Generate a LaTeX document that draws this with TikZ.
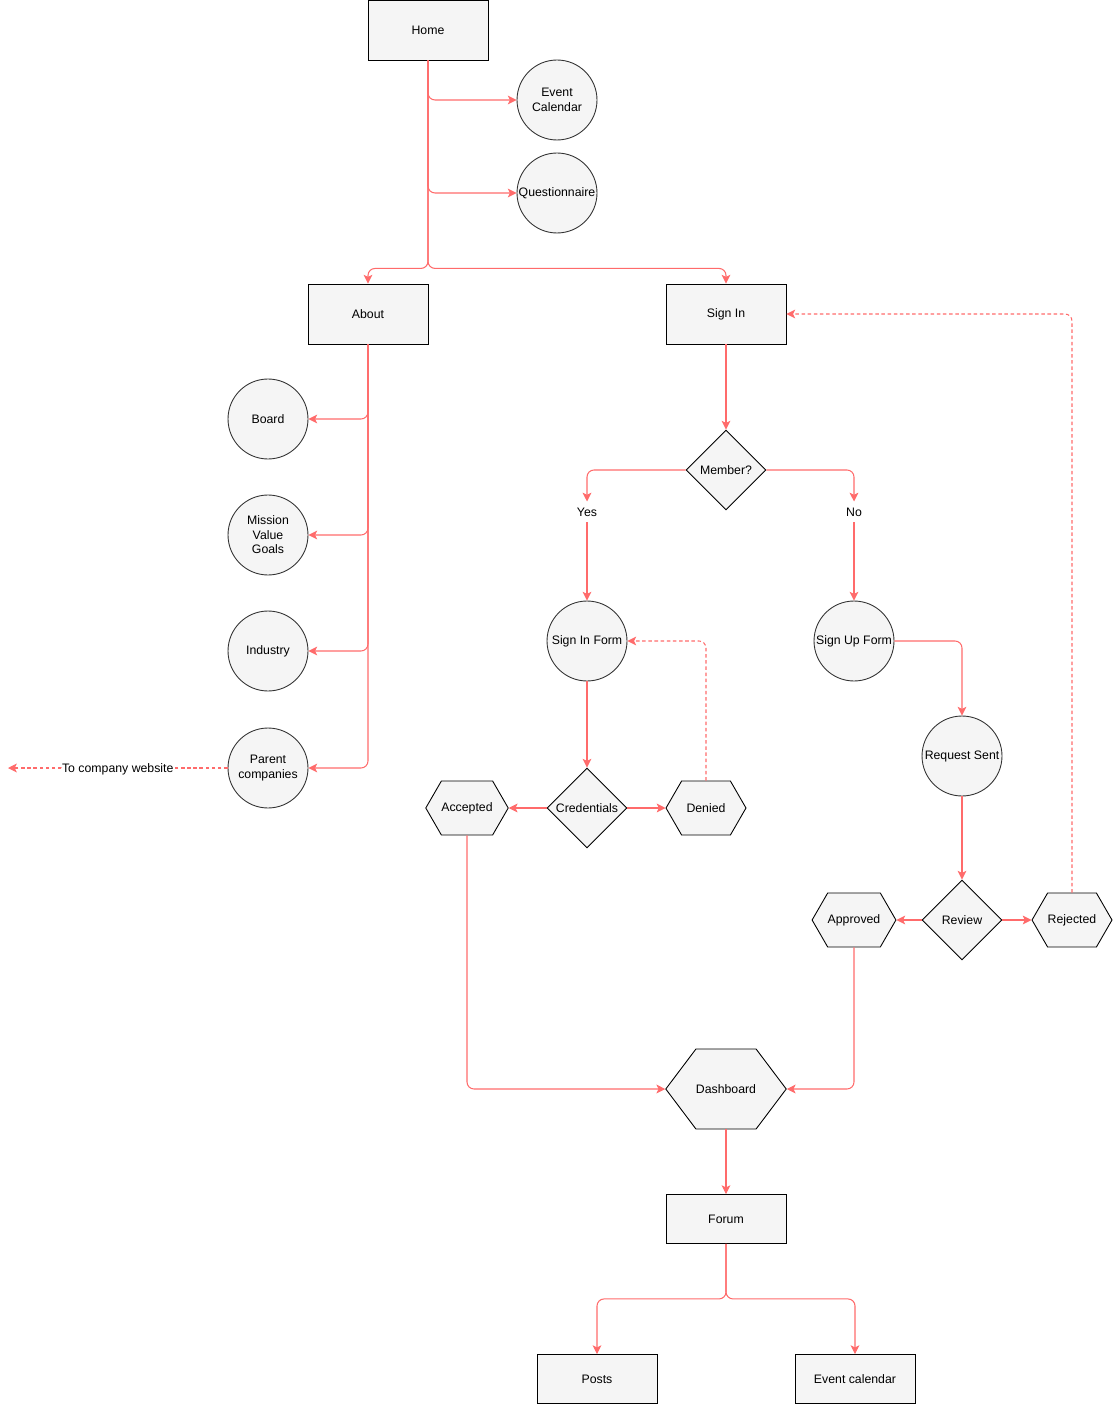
\documentclass[tikz,border=0pt]{standalone}
\usepackage{fontspec}
\setmainfont{Liberation Sans}
\usepackage{xcolor}
\usetikzlibrary{shapes.geometric, shapes.symbols, arrows.meta}
\definecolor{linkRed}{HTML}{FF6B6B}
\definecolor{fillGrey}{HTML}{F5F5F5}
\definecolor{edgeGrey}{HTML}{333333}

\begin{document}
\begin{tikzpicture} [
    x=0.02cm, y=-0.02cm,
    font=\fontsize{7}{8.2}\selectfont,
    pageNode/.style={rectangle, draw=black, fill=fillGrey, line width=0.5pt, inner sep=0pt, minimum width=2.4cm, minimum height=1.2cm},
    smallPage/.style={pageNode, minimum height=0.98cm},
    viewNode/.style={circle, draw=edgeGrey, fill=fillGrey, line width=0.5pt, inner sep=0pt, minimum size=1.6cm, align=center},
    decision/.style={diamond, draw=black, fill=fillGrey, line width=0.5pt, inner sep=0pt, minimum width=1.6cm, minimum height=1.6cm},
    result/.style={signal, signal to=west and east, signal pointer angle=120, draw=black, fill=fillGrey, line width=0.5pt, inner sep=0pt, minimum width=1.6cm, minimum height=1.08cm},
    link/.style={line width=0.6pt, draw=linkRed, rounded corners=4pt, -{Stealth[length=5pt, width=5pt, inset=1.2pt]}},
    backLink/.style={link, dashed, dash pattern=on 2pt off 1.5pt}
]
    \useasboundingbox (0,0) rectangle (1113,1405);

    % top level
    \node[pageNode] (home) at (428,30) {Home};
    \node[viewNode] (evcal) at (557,100) {Event\\Calendar};
    \node[viewNode] (quest) at (557,193) {Questionnaire};
    \node[pageNode] (about) at (368,314) {About};
    \node[pageNode] (signin) at (726,314) {Sign In};

    % about pages
    \node[viewNode] (board) at (268,419) {Board};
    \node[viewNode] (mission) at (268,535) {Mission\\Value\\Goals};
    \node[viewNode] (industry) at (268,651) {Industry};
    \node[viewNode] (parent) at (268,768) {Parent\\companies};
    \coordinate (website) at (8,768);

    % sign in flow
    \node[decision] (member) at (726,470) {Member?};
    \node (yes) at (587,512) {Yes};
    \node (no) at (854,512) {No};
    \node[viewNode] (sinform) at (587,641) {Sign In Form};
    \node[viewNode] (supform) at (854,641) {Sign Up Form};
    \node[decision] (cred) at (587,808) {Credentials};
    \node[result] (accepted) at (467,808) {Accepted};
    \node[result] (denied) at (706,808) {Denied};
    \node[viewNode] (request) at (962,756) {Request Sent};
    \node[decision] (review) at (962,920) {Review};
    \node[result] (approved) at (854,920) {Approved};
    \node[result] (rejected) at (1072,920) {Rejected};

    % member area
    \node[result, minimum width=2.4cm, minimum height=1.6cm, signal pointer angle=106] (dash) at (726,1089) {Dashboard};
    \node[smallPage] (forum) at (726,1219) {Forum};
    \node[smallPage] (posts) at (597,1379) {Posts};
    \node[smallPage] (calendar) at (855,1379) {Event calendar};

    \draw [link] (home.south) |- (evcal.west);
    \draw [link] (home.south) |- (quest.west);
    \draw [link] (home.south) -- ++(0,208) -| (about.north);
    \draw [link] (home.south) -- ++(0,208) -| (signin.north);

    \draw [link] (about.south) |- (board.east);
    \draw [link] (about.south) |- (mission.east);
    \draw [link] (about.south) |- (industry.east);
    \draw [link] (about.south) |- (parent.east);
    \draw [backLink] (parent.west) -- node[fill=white, inner sep=0.5pt, yshift=-0.5pt] {To company website} (website);

    \draw [link] (signin.south) -- (member.north);
    \draw [link] (member.west) -| (yes.north);
    \draw [link] (member.east) -| (no.north);
    \draw [link] (yes.south) -- (sinform.north);
    \draw [link] (no.south) -- (supform.north);
    \draw [link] (sinform.south) -- (cred.north);
    \draw [link] (cred.west) -- (accepted.east);
    \draw [link] (cred.east) -- (denied.west);
    \draw [backLink] (denied.north) |- (sinform.east);
    \draw [link] (supform.east) -| (request.north);
    \draw [link] (request.south) -- (review.north);
    \draw [link] (review.west) -- (approved.east);
    \draw [link] (review.east) -- (rejected.west);
    \draw [backLink] (rejected.north) |- (signin.east);

    \draw [link] (accepted.south) |- (dash.west);
    \draw [link] (approved.south) |- (dash.east);
    \draw [link] (dash.south) -- (forum.north);
    \draw [link] (forum.south) -- ++(0,55) -| (posts.north);
    \draw [link] (forum.south) -- ++(0,55) -| (calendar.north);
\end{tikzpicture}
\end{document}
